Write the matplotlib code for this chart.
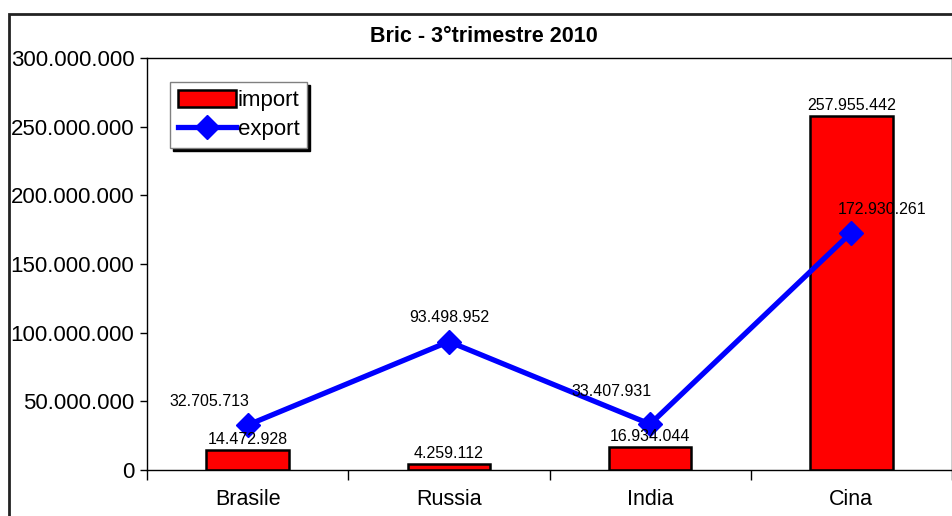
import matplotlib
matplotlib.use("Agg")
import matplotlib.pyplot as plt
from matplotlib.patches import Rectangle
from matplotlib.ticker import FuncFormatter, FixedLocator

plt.rcParams['font.family'] = ['Liberation Sans', 'DejaVu Sans']

categories = ["Brasile", "Russia", "India", "Cina"]
import_vals = [14472928, 4259112, 16934044, 257955442]
export_vals = [32705713, 93498952, 33407931, 172930261]
title = "Bric - 3°trimestre 2010"

def fmt(v):
    return f"{int(v):,}".replace(",", ".")

W, H = 953, 516
fig = plt.figure(figsize=(W / 100, H / 100), dpi=100)
ax = fig.add_axes([147 / W, (H - 470) / H, (952 - 147) / W, (470 - 58) / H])

x = list(range(len(categories)))
bars = ax.bar(x, import_vals, width=0.41, color="#ff0000", edgecolor="black",
              linewidth=1.8, label="import", zorder=2)
line, = ax.plot(x, export_vals, color="#0000ff", linewidth=3.8, marker="D", markersize=12,
                label="export", zorder=3)

ax.set_xlim(-0.5, 3.5)
ax.set_ylim(0, 300000000)
ax.set_yticks(range(0, 300000001, 50000000))
ax.yaxis.set_major_formatter(FuncFormatter(lambda v, p: fmt(v)))
ax.set_xticks(x)
ax.set_xticklabels(categories)
ax.xaxis.set_minor_locator(FixedLocator([-0.5, 0.5, 1.5, 2.5, 3.5]))
ax.tick_params(axis="x", which="major", length=0, labelsize=15.5, pad=14)
ax.tick_params(axis="x", which="minor", length=7, width=1, direction="out")
ax.tick_params(axis="y", length=5, width=1, direction="out", labelsize=16, pad=4)
for s in ax.spines.values():
    s.set_linewidth(1)
    s.set_color("black")

# import labels
for xi, v in zip(x, import_vals):
    ax.annotate(fmt(v), (xi, v), xytext=(0, 3), textcoords="offset pixels",
                ha="center", va="bottom", fontsize=11.5)

# export labels
offsets = [(-38, 24), (0, 24), (-39, 33), (31, 23)]
for xi, v, (dx, dy) in zip(x, export_vals, offsets):
    ax.annotate(fmt(v), (xi, v), xytext=(dx, dy), textcoords="offset pixels",
                ha="center", va="center", fontsize=11.5, zorder=4)

leg = ax.legend([bars, line], ["import", "export"],
                loc="upper left", bbox_to_anchor=((170 - 147) / (952 - 147), 1 - (82 - 58) / (470 - 58)),
                fontsize=16, frameon=True, fancybox=False, shadow={"color": "black", "alpha": 1},
                handlelength=2.6, handleheight=0.8, handletextpad=0.1, borderpad=0.35,
                labelspacing=0.35, borderaxespad=0)
leg.get_frame().set_edgecolor("#808080")
leg.get_frame().set_linewidth(1)

fig.text(484 / W, 1 - 36 / H, title, ha="center", va="center", fontsize=15.5, fontweight="bold")

fig.patches.append(Rectangle((9 / W, -0.05), 1.05, (H - 14) / H + 0.05, transform=fig.transFigure,
                             fill=False, edgecolor="#222222", linewidth=2))

fig.savefig("out.png", dpi=100)
